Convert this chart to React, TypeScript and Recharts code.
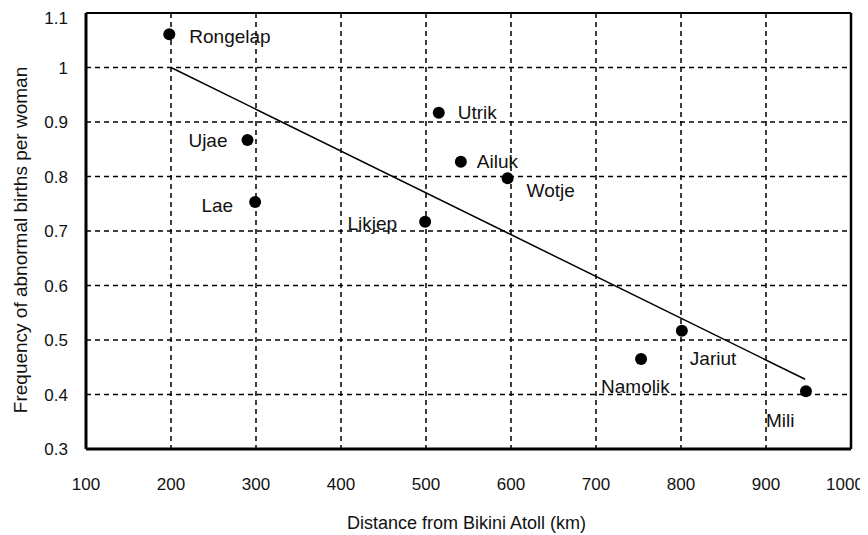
import React from "react";
import {
  ScatterChart,
  Scatter,
  XAxis,
  YAxis,
  CartesianGrid,
  ReferenceLine,
} from "recharts";

const atolls = ["Rongelap", "Ujae", "Lae", "Utrik", "Ailuk", "Wotje", "Likjep", "Jariut", "Namolik", "Mili"];
const distances = [198, 290, 299, 515, 541, 596, 499, 801, 753, 947];
const frequencies = [1.061, 0.867, 0.753, 0.917, 0.827, 0.797, 0.717, 0.517, 0.465, 0.406];

const trendX = [200, 946];
const trendY = [1.0, 0.428];

const xTicks = [100, 200, 300, 400, 500, 600, 700, 800, 900, 1000];
const yTicks = [0.3, 0.4, 0.5, 0.6, 0.7, 0.8, 0.9, 1, 1.1];

const FONT = "'Liberation Sans', Arial, sans-serif";

// label placement next to each dot (anchor, dx, baseline dy)
const labelPos: Record<string, [string, number, number]> = {
  Rongelap: ["start", 20, 9],
  Ujae: ["end", -20, 7],
  Lae: ["end", -22, 10],
  Utrik: ["start", 19, 6],
  Ailuk: ["start", 16, 6],
  Wotje: ["start", 19, 19],
  Likjep: ["end", -28, 8],
  Jariut: ["start", 8, 34],
  Namolik: ["start", -40, 34],
  Mili: ["start", -40, 36],
};

const points = atolls.map((name, i) => ({
  name,
  x: distances[i],
  y: frequencies[i],
}));
const trend = trendX.map((x, i) => ({ x, y: trendY[i] }));

const DotWithLabel = (props: any) => {
  const { cx, cy, payload } = props;
  const [anchor, dx, dy] = labelPos[payload.name];
  return (
    <g>
      <circle cx={cx} cy={cy} r={6} fill="#000" />
      <text
        x={cx + dx}
        y={cy + dy}
        textAnchor={anchor}
        fontSize={19}
        fontFamily={FONT}
        fill="#111"
      >
        {payload.name}
      </text>
    </g>
  );
};

// x ticks; the last one is pulled in so it stays inside the frame
const XTick = (props: any) => {
  const { x, y, payload } = props;
  const last = payload.value === xTicks[xTicks.length - 1];
  return (
    <text
      x={last ? x - 6 : x}
      y={y}
      dy="0.71em"
      textAnchor="middle"
      fontSize={17}
      fontFamily={FONT}
      fill="#111"
    >
      {payload.value}
    </text>
  );
};

const YTitle = (props: any) => {
  const { viewBox } = props;
  const x = viewBox.x - 16;
  const y = 232;
  return (
    <text
      x={x}
      y={y}
      transform={`rotate(-90, ${x}, ${y})`}
      textAnchor="middle"
      dominantBaseline="central"
      fontSize={19}
      fontFamily={FONT}
      fill="#111"
    >
      Frequency of abnormal births per woman
    </text>
  );
};

const XTitle = (props: any) => {
  const { viewBox } = props;
  return (
    <text
      x={viewBox.x + viewBox.width / 2 - 2}
      y={viewBox.y + 74}
      textAnchor="middle"
      dominantBaseline="central"
      fontSize={18}
      fontFamily={FONT}
      fill="#111"
    >
      Distance from Bikini Atoll (km)
    </text>
  );
};

export default function App() {
  return (
    <div style={{ background: "#fff", width: 860, height: 527 }}>
      <ScatterChart
        width={860}
        height={527}
        margin={{ top: 5, right: 17, left: 28, bottom: 26 }}
      >
        <CartesianGrid
          stroke="#000"
          strokeWidth={1.5}
          strokeDasharray="5 4"
          horizontalValues={yTicks}
          verticalValues={xTicks}
        />
        <XAxis
          type="number"
          dataKey="x"
          domain={[100, 1000]}
          ticks={xTicks}
          height={60}
          tickLine={false}
          tickSize={0}
          tickMargin={29}
          axisLine={{ stroke: "#000", strokeWidth: 3 }}
          tick={<XTick />}
          label={<XTitle />}
        />
        <YAxis
          type="number"
          dataKey="y"
          domain={[0.3, 1.1]}
          ticks={yTicks}
          width={50}
          tickLine={false}
          tickSize={0}
          tickMargin={18}
          axisLine={{ stroke: "#000", strokeWidth: 3 }}
          tick={{ fontSize: 17, fill: "#111", fontFamily: FONT }}
          tickFormatter={(v: number) => String(v)}
          label={<YTitle />}
        />
        <ReferenceLine y={1.1} stroke="#000" strokeWidth={2} />
        <ReferenceLine x={1000} stroke="#000" strokeWidth={2.5} />
        <Scatter
          data={trend}
          line={{ stroke: "#000", strokeWidth: 1.5 }}
          shape={() => <g />}
          isAnimationActive={false}
        />
        <Scatter
          data={points}
          shape={<DotWithLabel />}
          isAnimationActive={false}
        />
      </ScatterChart>
    </div>
  );
}
